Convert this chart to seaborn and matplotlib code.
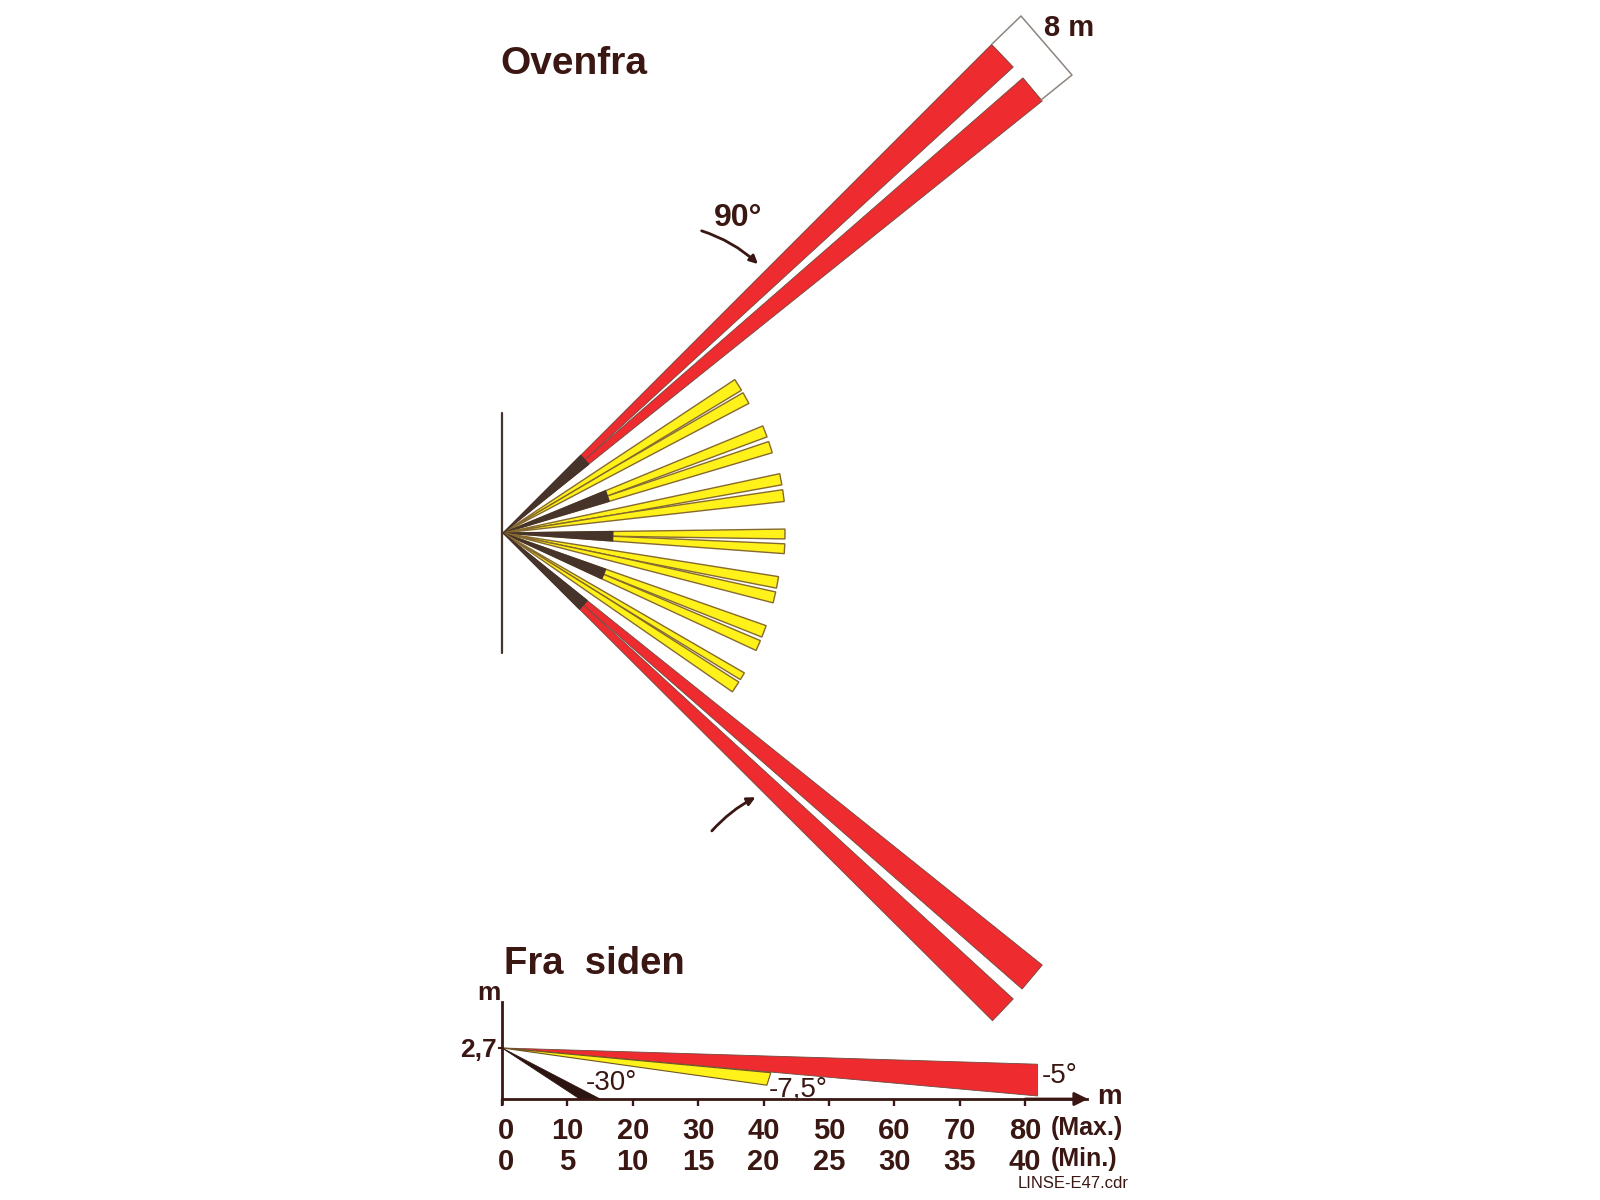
import numpy as np
import seaborn as sns
import matplotlib.pyplot as plt
from matplotlib.patches import FancyArrowPatch
from matplotlib.transforms import ScaledTranslation

# top view and side view of the lens detection beams

# top view: each beam is two fingers, given as four edge angles in degrees
red_beams = [[45.0, 42.4, 41.2, 38.7], [-38.7, -41.3, -42.4, -44.9]]
red_range = 691
red_dark = [110, 108]
yellow_beams = [
    [33.5, 30.9, 30.3, 27.8],
    [22.4, 20.0, 19.0, 16.6],
    [12.1, 9.8, 8.8, 6.4],
    [0.8, -1.2, -2.2, -4.2],
    [-9.0, -11.4, -12.2, -14.5],
    [-19.4, -21.9, -22.7, -24.9],
    [-30.1, -31.7, -32.3, -34.7],
]
yellow_range = [278, 281, 283, 282, 279, 279, 279]
yellow_dark = [0, 111, 0, 110, 0, 109, 0]
yellow_split = [125, 111, 125, 110, 125, 109, 125]

wall_x = [502, 502]
wall_y = [413, 653]
dim_x = [992, 1021, 1072, 1041]
dim_y = [44, 16, 75, 100]

# side view, metres
side_ticks = [0, 10, 20, 30, 40, 50, 60, 70, 80]
side_ticks_min = [0, 5, 10, 15, 20, 25, 30, 35, 40]
mount_height = 2.7
red_side_x = [0, 81.9, 81.9]
red_side_y = [2.7, 1.84, 0.16]
yellow_side_x = [0, 41.1, 40.5]
yellow_side_y = [2.7, 1.39, 0.73]
dark_side_x = [0, 15.0, 11.9]
dark_side_y = [2.7, 0, 0]

RED = '#ee2b2e'
YELLOW = '#fff21a'
DARK = '#46332a'
TEXT = '#3a1712'
ORIGIN = (503, 533)

sns.set_theme(style='white')
plt.rcParams['font.family'] = ['Liberation Sans', 'DejaVu Sans']

fig = plt.figure(figsize=(16, 12), dpi=100)
ax = fig.add_axes([0, 0, 1, 1])
ax.set_xlim(0, 1600)
ax.set_ylim(1200, 0)
ax.axis('off')


def polar_fill(angles, radii, **kw):
    ang = np.radians(angles)
    rad = np.array(radii)
    ax.fill(ORIGIN[0] + rad * np.cos(ang), ORIGIN[1] - rad * np.sin(ang), **kw)


def draw_beam(angles, rng, split, dark, fc, ec, lw):
    # the fingers touch up to the split radius and only then open up
    mid = (angles[1] + angles[2]) / 2
    polar_fill([angles[0], angles[0], angles[1], mid], [0, rng, rng, split], fc=fc, ec=ec, lw=lw)
    polar_fill([mid, angles[2], angles[3], angles[3]], [split, rng, rng, 0], fc=fc, ec=ec, lw=lw)
    if dark:
        polar_fill([angles[0], angles[0], angles[3], angles[3]], [0, dark, dark, 0], fc=DARK, ec=DARK, lw=0.8)


for angles, rng, split, dark in zip(yellow_beams, yellow_range, yellow_split, yellow_dark):
    draw_beam(angles, rng, split, dark, YELLOW, '#86692e', 1.0)
for angles, dark in zip(red_beams, red_dark):
    draw_beam(angles, red_range, dark, dark, RED, '#6e4a40', 0.6)

sns.lineplot(x=wall_x, y=wall_y, ax=ax, color=DARK, linewidth=1.6, sort=False, estimator=None)
sns.lineplot(x=dim_x, y=dim_y, ax=ax, color='#8d8580', linewidth=1.1, sort=False, estimator=None)

# curved arrows next to the red beams
ax.add_patch(FancyArrowPatch((699, 230), (760, 266), connectionstyle='arc3,rad=-0.12',
                             arrowstyle='-|>', mutation_scale=12, color=TEXT, lw=2.0))
ax.add_patch(FancyArrowPatch((710, 833), (758, 796), connectionstyle='arc3,rad=-0.1',
                             arrowstyle='-|>', mutation_scale=12, color=TEXT, lw=2.0))

ax.text(500, 64, 'Ovenfra', fontsize=28, fontweight='bold', color=TEXT, va='center')
ax.text(504, 964, 'Fra  siden', fontsize=27.5, fontweight='bold', color=TEXT, va='center')
ax.text(738, 218, '90°', fontsize=23, fontweight='bold', color=TEXT, ha='center', va='center')
ax.text(1069, 28, '8 m', fontsize=21, fontweight='bold', color=TEXT, ha='center', va='center')
ax.text(1051, 1128, '(Max.)', fontsize=18, fontweight='bold', color=TEXT, va='center')
ax.text(1051, 1159, '(Min.)', fontsize=18, fontweight='bold', color=TEXT, va='center')
ax.text(1018, 1184, 'LINSE-E47.cdr', fontsize=12, color=TEXT, va='center')

# side view gets its own axes so the marks sit on real metre scales
side = fig.add_axes([502 / 1600, 101 / 1200, 585 / 1600, 97 / 1200])
side.patch.set_alpha(0)
side.set_xlim(0, 89.45)
side.set_ylim(0, 5.13)
side.fill(red_side_x, red_side_y, fc=RED, ec='#6e4a40', lw=0.6, clip_on=False)
side.fill(yellow_side_x, yellow_side_y, fc=YELLOW, ec='#6e5520', lw=0.8, clip_on=False)
side.fill(dark_side_x, dark_side_y, fc='#2c1410', ec='#2c1410', lw=0.6, clip_on=False)

sns.despine(ax=side)
for name in ['left', 'bottom']:
    side.spines[name].set_color(TEXT)
    side.spines[name].set_linewidth(2.0)

side.set_xticks(side_ticks)
side.set_xticklabels([f'{a}\n{b}' for a, b in zip(side_ticks, side_ticks_min)],
                     fontsize=21, fontweight='bold', color=TEXT, linespacing=1.15)
side.set_yticks([mount_height])
side.set_yticklabels(['2,7'], fontsize=19, fontweight='bold', color=TEXT)
side.tick_params(axis='x', length=5, width=1.7, color=TEXT, pad=8, bottom=True)
side.tick_params(axis='y', length=3, width=1.5, color=TEXT, pad=1, left=True)
side.plot([0, 0], [0, -0.27], color=TEXT, lw=2.0, clip_on=False)

first = side.get_xticklabels()[0]
first.set_transform(first.get_transform() + ScaledTranslation(3 / 72, 0, fig.dpi_scale_trans))

side.annotate('', xy=(89.6, 0), xytext=(80, 0), annotation_clip=False,
              arrowprops=dict(arrowstyle='-|>', color=TEXT, lw=2.0, mutation_scale=20, shrinkA=0, shrinkB=0))
side.text(-2.0, 5.6, 'm', fontsize=19, fontweight='bold', color=TEXT, ha='center', va='center')
side.text(91.0, 0.12, 'm', fontsize=20, fontweight='bold', color=TEXT, ha='left', va='center', clip_on=False)
side.text(12.8, 0.85, '-30°', fontsize=20, color=TEXT, va='center')
side.text(40.8, 0.5, '-7,5°', fontsize=20, color=TEXT, va='center')
side.text(82.6, 1.22, '-5°', fontsize=20, color=TEXT, va='center')

fig.savefig('out.png', dpi=100, facecolor='white')
